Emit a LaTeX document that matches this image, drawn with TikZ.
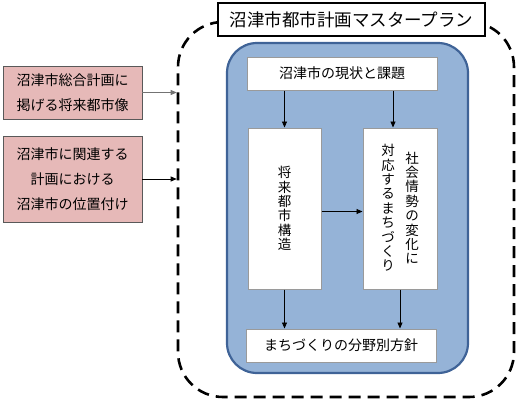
\documentclass[tikz,border=0pt]{standalone}
\usepackage{fontspec}
\setmainfont{Noto Sans CJK JP}
\usetikzlibrary{arrows.meta}
\definecolor{pinkfill}{HTML}{E6B9B8}
\definecolor{bluefill}{HTML}{95B3D7}
\definecolor{blueedge}{HTML}{3F6397}
\definecolor{grayedge}{HTML}{9A9A9A}
\tikzset{
  pinkbox/.style={draw=black!65, line width=0.8pt, fill=pinkfill, inner sep=0pt, align=center,
    font=\fontsize{14}{25}\selectfont},
  whitebox/.style={draw=grayedge, line width=1pt, fill=white, inner sep=0pt, align=center,
    font=\fontsize{14}{14.5}\selectfont},
  vcol/.style={inner sep=0pt, align=center, font=\fontsize{13.5}{14.4}\selectfont},
  arr/.style={-{Triangle[length=6pt,width=5pt]}, line width=0.8pt, black},
}
\begin{document}
\begin{tikzpicture}[x=1pt,y=-1pt]
\useasboundingbox (0,0) rectangle (520,402);
% outer dashed frame
\node[draw=black, line width=2.6pt, dash pattern=on 12pt off 7pt, rounded corners=45pt,
  minimum width=336pt, minimum height=375pt, inner sep=0pt] (outer) at (346,209.5) {};
% title
\node[draw=black, line width=1.4pt, fill=white, minimum width=267pt, minimum height=33pt,
  inner sep=0pt, font=\fontsize{17.5}{20}\selectfont] (title) at (351.5,19.5) {沼津市都市計画マスタープラン};
% blue panel
\node[draw=blueedge, line width=2.2pt, fill=bluefill, rounded corners=30pt,
  minimum width=241pt, minimum height=330pt, inner sep=0pt] (panel) at (347.5,208) {};
% inner boxes
\node[whitebox, minimum width=190pt, minimum height=33pt] (top) at (342,73.5) {沼津市の現状と課題};
\node[whitebox, minimum width=73pt, minimum height=161pt] (lbox) at (284.5,208.5) {};
\node[vcol] (ltext) at (lbox.center) {将\\来\\都\\市\\構\\造};
\node[whitebox, minimum width=74pt, minimum height=161pt] (rbox) at (400,208.5) {};
\node[vcol] (rtext1) at (412,208) {社\\会\\情\\勢\\の\\変\\化\\に};
\node[vcol] (rtext2) at (388,208) {対\\応\\す\\る\\ま\\ち\\づ\\く\\り};
\node[whitebox, minimum width=190pt, minimum height=33pt] (bottom) at (341,345.5) {まちづくりの分野別方針};
% left boxes
\node[pinkbox, minimum width=139pt, minimum height=53pt] (lb1) at (72.5,92.5) {沼津市総合計画に\\掲げる将来都市像};
\node[pinkbox, minimum width=139pt, minimum height=86pt] (lb2) at (72.5,179) {沼津市に関連する\\計画における\\沼津市の位置付け};
% connectors
\draw[arr, black!55] (lb1.east) -- (lb1.east -| outer.west);
\draw[arr] (lb2.east) -- (lb2.east -| outer.west);
\draw[arr] (top.south -| lbox.north) -- (lbox.north);
\draw[arr] ([xshift=-7pt]top.south -| rbox.north) -- ([xshift=-7pt]rbox.north);
\draw[arr] ([yshift=-3pt]lbox.east) -- ([yshift=-3pt]rbox.west);
\draw[arr] (lbox.south) -- (lbox.south |- bottom.north);
\draw[arr] (rbox.south) -- (rbox.south |- bottom.north);
\end{tikzpicture}
\end{document}
